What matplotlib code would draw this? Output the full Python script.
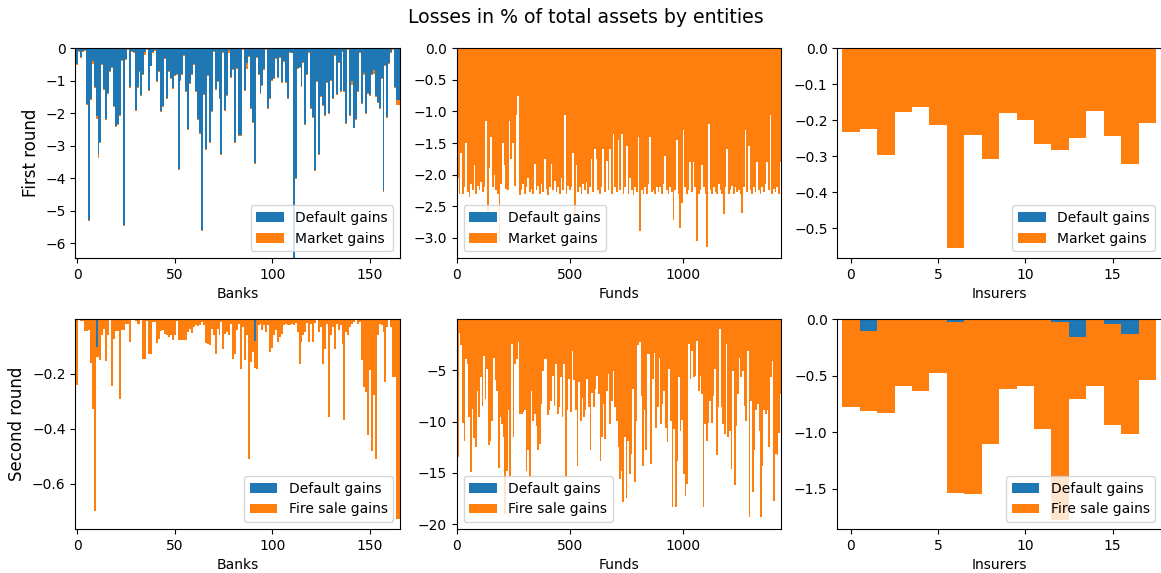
"""
Losses in % of total assets by entities: first and second round,
stacked default gains / market (fire sale) gains for banks, funds and insurers.
"""

import matplotlib

matplotlib.use("Agg")
import matplotlib.pyplot as plt
import numpy as np
from matplotlib.ticker import MultipleLocator

# ---- banks, first round (one value per bank) ----
bank_r1_default = [
    -0.47, -0.07, -0.27, -0.07, -0.05, -1.72, -5.3, -1.56, -0.4, -1.18,
    -2.1, -3.25, -2.88, -0.49, -1.26, -2.19, -1.38, -0.71, -0.58, -1.79,
    -2.39, -2.34, -2.06, -0.37, -5.45, -0.34, -0.02, -1.18, -0.07, -0.1,
    -1.89, -1.18, -0.71, -1.43, -0.8, -0.1, -0.02, -1.28, -0.53, -0.1,
    -0.04, -1.01, -0.71, -1.94, -1.79, -0.3, -1.54, -0.71, -0.93, -1.21,
    -0.83, -0.8, -3.71, -0.98, -0.8, -0.22, -1.33, -2.49, -1.08, -0.78,
    -0.47, -1.33, -2.19, -2.62, -5.6, -1.4, -3.1, -0.83, -2.88, -1.94,
    -0.07, -1.25, -1.01, -1.54, -3.25, -0.12, -1.89, -1.45, -0.05, -0.88,
    -0.63, -2.9, -0.61, -2.68, -2.68, -0.02, -1.28, -0.45, -0.25, -1.84,
    -2.26, -3.53, -0.27, -0.78, -1.38, -1.13, -0.63, -0.02, -1.84, -1.52,
    -0.98, -0.93, -0.3, -0.88, -0.27, -1.03, -0.4, -1.03, -1.52, -0.12,
    -0.13, -6.8, -4.01, -0.6, -0.58, -1.15, -0.42, -2.34, -0.78, -0.1,
    -1.84, -2.12, -3.74, -1.01, -3.25, -1.48, -1.76, -2.04, -1.03, -1.99,
    -0.98, -1.52, -0.2, -1.41, -0.42, -1.3, -0.07, -1.33, -2.29, -0.02,
    -2.04, -1.0, -2.44, -2.19, -1.33, -0.1, -1.69, -0.75, -1.99, -1.38,
    -1.43, -0.78, -0.68, -1.48, -1.64, -1.84, -0.91, -4.41, -0.5, -2.12,
    -0.45, -0.12, -0.02, -1.2, -1.6, -1.6,
]
bank_r1_market = [
    -0.03, -0.03, -0.03, -0.03, -0.03, -0.03, -0.03, -0.03, -0.08, -0.03,
    -0.08, -0.12, -0.03, -0.03, -0.03, -0.03, -0.03, -0.03, -0.03, -0.03,
    -0.03, -0.03, -0.03, -0.03, -0.03, -0.03, -0.03, -0.03, -0.03, -0.03,
    -0.03, -0.03, -0.03, -0.03, -0.03, -0.12, -0.03, -0.03, -0.03, -0.03,
    -0.03, -0.03, -0.03, -0.03, -0.03, -0.03, -0.03, -0.03, -0.03, -0.03,
    -0.03, -0.03, -0.03, -0.03, -0.03, -0.03, -0.03, -0.03, -0.03, -0.03,
    -0.03, -0.03, -0.03, -0.03, -0.03, -0.03, -0.03, -0.03, -0.03, -0.03,
    -0.03, -0.03, -0.03, -0.03, -0.03, -0.03, -0.03, -0.03, -0.1, -0.03,
    -0.03, -0.03, -0.03, -0.03, -0.03, -0.03, -0.03, -0.18, -0.03, -0.03,
    -0.03, -0.03, -0.03, -0.03, -0.03, -0.03, -0.03, -0.03, -0.03, -0.03,
    -0.03, -0.03, -0.03, -0.03, -0.03, -0.03, -0.03, -0.03, -0.03, -0.03,
    -0.03, -0.03, -0.03, -0.03, -0.03, -0.03, -0.03, -0.03, -0.03, -0.03,
    -0.03, -0.03, -0.03, -0.03, -0.03, -0.03, -0.03, -0.03, -0.03, -0.03,
    -0.03, -0.03, -0.04, -0.03, -0.03, -0.04, -0.03, -0.03, -0.03, -0.03,
    -0.03, -0.14, -0.03, -0.03, -0.03, -0.03, -0.03, -0.07, -0.03, -0.03,
    -0.03, -0.03, -0.1, -0.03, -0.03, -0.03, -0.03, -0.03, -0.03, -0.03,
    -0.03, -0.03, -0.03, -0.03, -0.15, -0.15,
]

# ---- banks, second round ----
bank_r2_default_idx = [10, 91]
bank_r2_default_val = [-0.103, -0.08]
bank_r2_firesale = [
    -0.242, -0.006, -0.01, -0.01, -0.046, -0.046, -0.042, -0.161, -0.327, -0.697,
    -0.035, -0.14, -0.152, -0.061, -0.036, -0.155, -0.061, -0.006, -0.246, -0.073,
    -0.046, -0.046, -0.293, -0.042, -0.042, -0.018, -0.018, -0.085, -0.006, -0.006,
    -0.01, -0.018, -0.018, -0.006, -0.145, -0.145, -0.01, -0.127, -0.127, -0.012,
    -0.012, -0.087, -0.073, -0.046, -0.042, -0.055, -0.061, -0.067, -0.061, -0.079,
    -0.061, -0.01, -0.079, -0.079, -0.079, -0.079, -0.079, -0.048, -0.039, -0.052,
    -0.03, -0.024, -0.027, -0.022, -0.012, -0.022, -0.087, -0.091, -0.097, -0.036,
    -0.061, -0.127, -0.036, -0.061, -0.012, -0.109, -0.055, -0.048, -0.061, -0.018,
    -0.148, -0.13, -0.042, -0.018, -0.182, -0.03, -0.152, -0.06, -0.509, -0.158,
    -0.121, -0.10, -0.182, -0.024, -0.018, -0.042, -0.024, -0.048, -0.024, -0.121,
    -0.107, -0.061, -0.042, -0.085, -0.067, -0.055, -0.024, -0.018, -0.024, -0.022,
    -0.018, -0.024, -0.015, -0.048, -0.164, -0.085, -0.061, -0.048, -0.015, -0.085,
    -0.018, -0.085, -0.015, -0.006, -0.048, -0.03, -0.164, -0.109, -0.02, -0.358,
    -0.061, -0.03, -0.109, -0.018, -0.042, -0.024, -0.091, -0.37, -0.048, -0.061,
    -0.03, -0.018, -0.012, -0.006, -0.018, -0.012, -0.152, -0.248, -0.267, -0.424,
    -0.188, -0.479, -0.279, -0.509, -0.061, -0.018, -0.024, -0.048, -0.23, -0.03,
    -0.006, -0.03, -0.212, -0.212, -0.727, -0.727,
]

# ---- funds (too many to resolve one by one: one value per ~7 funds) ----
N_FUNDS = 1436
fund_r1_market = [
    -2.05, -2.3, -1.65, -2.3, -2.2, -1.5, -2.28, -2.35, -2.15, -2.25,
    -1.85, -2.3, -2.18, -2.25, -2.12, -2.28, -2.2, -1.15, -2.6, -1.9,
    -1.4, -2.2, -2.0, -2.25, -2.3, -3.05, -2.15, -1.5, -1.85, -2.22,
    -2.25, -1.15, -1.75, -1.5, -2.18, -1.05, -0.75, -2.32, -2.25, -2.15,
    -2.3, -2.2, -2.05, -2.28, -2.22, -2.3, -1.83, -2.25, -2.18, -2.3,
    -2.15, -2.28, -1.75, -2.22, -2.32, -2.2, -1.83, -2.25, -2.1, -2.28,
    -2.2, -2.3, -2.05, -2.25, -1.05, -2.3, -2.18, -2.25, -2.2, -1.65,
    -2.62, -1.85, -2.28, -2.2, -2.3, -2.15, -2.25, -2.12, -2.3, -2.2,
    -1.75, -2.28, -1.6, -1.75, -2.25, -2.3, -2.2, -1.6, -2.28, -1.78,
    -2.25, -1.6, -2.3, -1.35, -2.2, -2.28, -1.45, -2.25, -1.35, -2.3,
    -2.2, -1.55, -2.3, -2.05, -2.25, -2.32, -2.2, -2.28, -1.4, -2.9,
    -2.25, -2.3, -2.2, -2.3, -2.15, -1.4, -2.28, -2.25, -2.3, -2.2,
    -2.28, -2.2, -2.3, -2.15, -1.7, -2.25, -2.3, -2.2, -2.28, -2.72,
    -2.25, -1.45, -2.3, -2.85, -2.45, -1.3, -2.2, -2.3, -2.25, -1.8,
    -2.28, -1.8, -2.2, -3.05, -2.3, -2.25, -1.85, -2.2, -2.3, -3.15,
    -1.2, -2.25, -2.3, -2.2, -2.28, -2.3, -2.15, -2.25, -2.3, -2.63,
    -2.2, -1.6, -2.3, -2.25, -2.18, -2.3, -2.2, -2.28, -2.25, -2.3,
    -2.6, -2.2, -1.3, -2.28, -1.55, -2.25, -2.3, -2.2, -2.28, -1.8,
    -2.25, -2.3, -2.2, -2.28, -2.15, -1.8, -2.25, -1.05, -2.3, -2.22,
    -2.28, -2.2, -2.3, -1.8,
]
fund_r2_firesale = [
    -13.4, -1.35, -2.6, -10.1, -11.9, -3.9, -4.4, -9.6, -14.9, -8.8,
    -11.6, -12.5, -7.0, -9.6, -5.7, -8.5, -3.6, -7.8, -4.9, -12.3,
    -11.9, -9.9, -3.8, -6.0, -7.0, -14.5, -9.6, -10.2, -11.5, -19.0,
    -14.8, -8.9, -15.3, -2.5, -11.5, -4.4, -3.9, -2.3, -9.3, -9.3,
    -9.1, -8.9, -14.8, -12.8, -15.4, -7.0, -9.9, -9.3, -10.4, -12.8,
    -12.2, -8.3, -5.1, -3.9, -3.9, -9.4, -8.9, -8.0, -5.6, -8.5,
    -4.4, -9.3, -8.6, -5.7, -9.6, -4.4, -15.4, -8.9, -5.9, -9.1,
    -3.1, -6.0, -8.9, -14.3, -6.2, -9.9, -7.7, -9.6, -8.9, -5.9,
    -8.6, -12.8, -7.2, -8.6, -6.8, -5.6, -7.3, -13.8, -11.5, -8.3,
    -11.7, -7.0, -5.4, -10.2, -8.0, -5.1, -8.6, -9.9, -12.5, -15.6,
    -14.8, -17.8, -11.5, -17.4, -11.9, -15.1, -13.2, -6.8, -15.9, -9.9,
    -2.6, -2.3, -7.5, -14.3, -8.9, -12.8, -3.4, -3.4, -14.1, -5.9,
    -3.3, -10.6, -8.6, -3.8, -10.2, -8.3, -7.0, -10.6, -12.0, -4.9,
    -9.9, -18.3, -10.7, -18.3, -13.8, -5.7, -10.9, -9.8, -15.1, -17.2,
    -16.1, -2.5, -5.9, -3.1, -5.7, -5.6, -2.15, -7.0, -5.6, -7.3,
    -18.3, -10.2, -11.9, -10.1, -8.0, -10.1, -7.5, -4.9, -13.3, -8.6,
    -1.0, -8.6, -10.2, -11.2, -2.5, -11.5, -10.9, -14.6, -5.1, -16.2,
    -10.4, -7.3, -3.8, -5.7, -5.1, -8.5, -9.9, -3.1, -19.3, -8.0,
    -16.9, -12.8, -8.9, -8.3, -10.9, -19.3, -14.3, -8.9, -9.3, -8.9,
    -12.5, -5.7, -4.1, -17.7, -13.2, -13.3, -11.1, -7.3,
]

# ---- insurers ----
ins_r1_default = [0.0, 0.0, 0.0, 0.0, 0.0, 0.0, 0.0, 0.0, 0.0,
                  0.0, 0.0, 0.0, 0.0, 0.0, 0.0, 0.0, 0.0, 0.0]
ins_r1_market = [-0.234, -0.224, -0.296, -0.177, -0.162, -0.212, -0.556, -0.240, -0.307,
                 -0.179, -0.199, -0.265, -0.282, -0.249, -0.174, -0.243, -0.323, -0.208]
ins_r2_default = [0.0, -0.104, 0.0, 0.0, 0.0, -0.01, -0.02, 0.0, 0.0,
                  0.0, 0.0, 0.0, -0.02, -0.153, 0.0, -0.04, -0.131, 0.0]
ins_r2_firesale = [-0.777, -0.706, -0.826, -0.59, -0.633, -0.464, -1.515, -1.544, -1.107,
                   -0.618, -0.59, -0.969, -1.754, -0.55, -0.59, -0.896, -0.884, -0.538]

BLUE = "tab:blue"
ORANGE = "tab:orange"


def stacked(ax, x, default, other, width, other_label, loc):
    ax.bar(x, default, width=width, color=BLUE, linewidth=0, label="Default gains")
    ax.bar(x, other, width=width, bottom=default, color=ORANGE, linewidth=0,
           label=other_label)
    ax.legend(loc=loc)


def main():
    fig = plt.figure(figsize=(11.61, 5.73), dpi=100)
    fig.suptitle("Losses in % of total assets by entities", x=0.5047, y=0.986,
                 fontsize=13.6)

    lefts = [0.0649, 0.3934, 0.7212]
    bottoms = [0.5497, 0.0768]
    w, h = 0.2797, 0.3660
    axes = [[fig.add_axes([l, b, w, h]) for l in lefts] for b in bottoms]

    # banks
    xb = np.arange(len(bank_r1_default))
    stacked(axes[0][0], xb, bank_r1_default, bank_r1_market, 1.0,
            "Market gains", "lower right")
    b2_default = np.zeros(len(bank_r2_firesale))
    b2_default[bank_r2_default_idx] = bank_r2_default_val
    stacked(axes[1][0], xb, b2_default, bank_r2_firesale, 1.0,
            "Fire sale gains", "lower right")
    for ax in (axes[0][0], axes[1][0]):
        ax.set_xlim(-0.86, 165.5)
        ax.xaxis.set_major_locator(MultipleLocator(50))
        ax.set_xlabel("Banks")
    axes[0][0].set_ylim(-6.46, 0)
    axes[1][0].set_ylim(-0.764, -0.0024)

    # funds
    for row, vals, lab in ((0, fund_r1_market, "Market gains"),
                           (1, fund_r2_firesale, "Fire sale gains")):
        step = N_FUNDS / len(vals)
        xf = (np.arange(len(vals)) + 0.5) * step
        ax = axes[row][1]
        stacked(ax, xf, np.zeros(len(vals)), vals, step, lab, "lower left")
        ax.set_xlim(-1, N_FUNDS)
        ax.xaxis.set_major_locator(MultipleLocator(500))
        ax.set_xlabel("Funds")
    axes[0][1].set_ylim(-3.32, 0)
    axes[1][1].set_ylim(-20.45, -0.05)

    # insurers
    xi = np.arange(len(ins_r1_market))
    stacked(axes[0][2], xi, ins_r1_default, ins_r1_market, 1.0,
            "Market gains", "lower right")
    stacked(axes[1][2], xi, ins_r2_default, ins_r2_firesale, 1.0,
            "Fire sale gains", "lower right")
    for ax in (axes[0][2], axes[1][2]):
        ax.set_xlim(-0.78, 17.84)
        ax.xaxis.set_major_locator(MultipleLocator(5))
        ax.set_xlabel("Insurers")
    axes[0][2].set_ylim(-0.583, 0)
    axes[1][2].set_ylim(-1.856, 0)

    axes[0][0].set_ylabel("First round", fontsize=12)
    axes[1][0].set_ylabel("Second round", fontsize=12)

    fig.savefig("out.png", dpi=100)
    plt.close(fig)


if __name__ == "__main__":
    main()
